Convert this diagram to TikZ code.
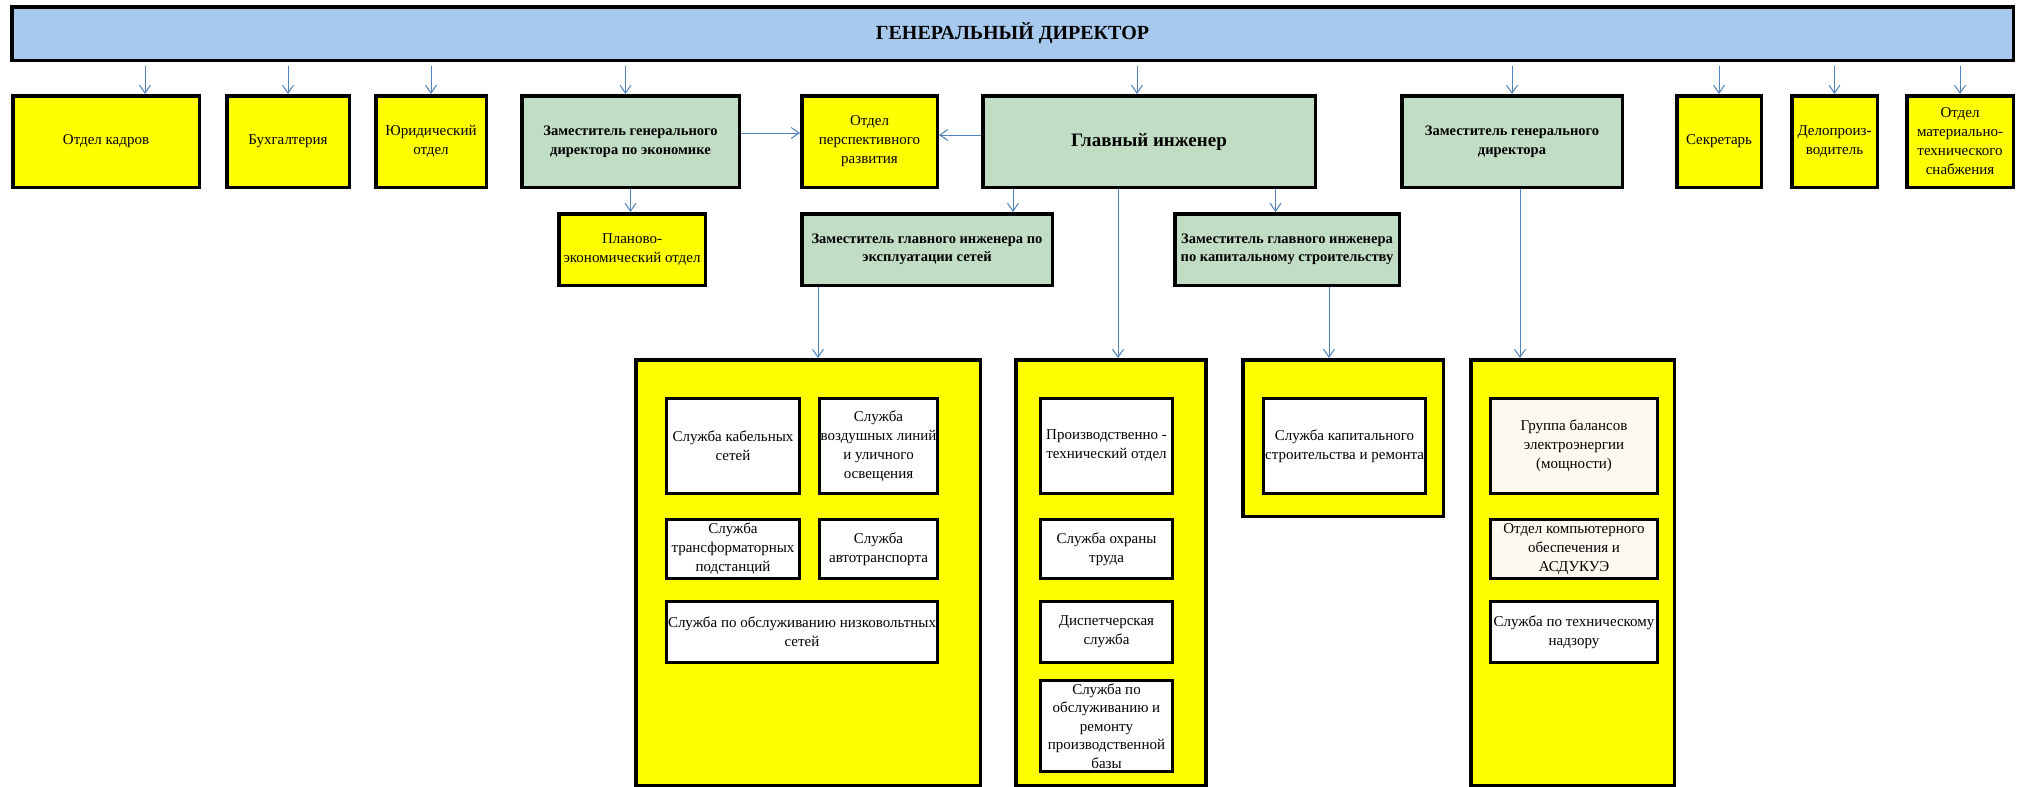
\documentclass[tikz,border=0pt]{standalone}
\usepackage{fontspec}
\setmainfont{Liberation Serif}
\usetikzlibrary{arrows.meta}
\definecolor{topblue}{HTML}{A7C9EE}
\definecolor{mgreen}{HTML}{C1DDC3}
\definecolor{ylw}{HTML}{FFFF00}
\definecolor{cream}{HTML}{FDF9EF}
\definecolor{arrblue}{HTML}{4F81BD}
\begin{document}
\begin{tikzpicture}[x=1pt,y=-1pt,
  box/.style={draw=black, line width=3.5pt, inner sep=2pt, align=center, text=black},
  ybox/.style={box, fill=ylw},
  gbox/.style={box, fill=mgreen},
  ibox/.style={draw=black, line width=3pt, inner sep=1pt, align=center, fill=white},
  cbox/.style={ibox, fill=cream},
  reg/.style={font=\fontsize{15}{19}\selectfont},
  bld/.style={font=\fontsize{14.5}{18.5}\selectfont\bfseries},
  arr/.style={draw=arrblue, line width=1pt, -{Straight Barb[length=8pt,width=11pt]}},
  tarr/.style={arr, shorten <=3.5pt}
]
\useasboundingbox (0,0) rectangle (2024,787);

% top
\node[box, fill=topblue, minimum width=2001.5pt, minimum height=53.5pt,
  font=\fontsize{20}{24}\selectfont\bfseries] (gd) at (1012.5,33.5) {ГЕНЕРАЛЬНЫЙ ДИРЕКТОР};

% row 2
\node[ybox, reg, minimum width=186.5pt, minimum height=91.5pt] (kadry) at (106,141.5) {Отдел кадров};
\node[ybox, reg, minimum width=122.5pt, minimum height=91.5pt] (buh) at (288,141.5) {Бухгалтерия};
\node[ybox, reg, minimum width=110.5pt, minimum height=91.5pt] (yur) at (431,141.5) {Юридический\\отдел};
\node[gbox, bld, minimum width=217.5pt, minimum height=91.5pt] (zamecon) at (630.5,141.5) {Заместитель генерального\\директора по экономике};
\node[ybox, reg, minimum width=135.5pt, minimum height=91.5pt] (persp) at (869.5,141.5) {Отдел\\перспективного\\развития};
\node[gbox, minimum width=332.5pt, minimum height=91.5pt, font=\fontsize{19}{23}\selectfont\bfseries] (glav) at (1149,141.5) {Главный инженер};
\node[gbox, bld, minimum width=220.5pt, minimum height=91.5pt] (zamgen) at (1512,141.5) {Заместитель генерального\\директора};
\node[ybox, reg, minimum width=84.5pt, minimum height=91.5pt] (sekr) at (1719,141.5) {Секретарь};
\node[ybox, reg, minimum width=85.5pt, minimum height=91.5pt] (delo) at (1834.5,141.5) {Делопроиз-\\водитель};
\node[ybox, reg, minimum width=106.5pt, minimum height=91.5pt] (mts) at (1960,141.5) {Отдел\\материально-\\технического\\снабжения};

% row 3
\node[ybox, reg, minimum width=146.5pt, minimum height=71.5pt] (planeko) at (632,249.5) {Планово-\\экономический отдел};
\node[gbox, bld, minimum width=250.5pt, minimum height=71.5pt] (zamexpl) at (927,249.5) {Заместитель главного инженера по\\эксплуатации сетей};
\node[gbox, bld, minimum width=224.5pt, minimum height=71.5pt] (zamkap) at (1287,249.5) {Заместитель главного инженера\\по капитальному строительству};

% big containers
\node[ybox, minimum width=344.5pt, minimum height=425.5pt] (b1) at (808,572.5) {};
\node[ybox, minimum width=190pt, minimum height=425.5pt] (b2) at (1110.75,572.5) {};
\node[ybox, minimum width=200.5pt, minimum height=156.5pt] (b3) at (1343,438) {};
\node[ybox, minimum width=203.5pt, minimum height=425.5pt] (b4) at (1572.5,572.5) {};

% inner boxes b1
\node[ibox, reg, minimum width=133pt, minimum height=95pt] (s1) at (733,446) {Служба кабельных\\сетей};
\node[ibox, reg, minimum width=118pt, minimum height=95pt] (s2) at (878.5,446) {Служба\\воздушных линий\\и уличного\\освещения};
\node[ibox, reg, minimum width=133pt, minimum height=59pt, inner sep=0pt] (s3) at (733,549) {Служба\\трансформаторных\\подстанций};
\node[ibox, reg, minimum width=118pt, minimum height=59pt] (s4) at (878.5,549) {Служба\\автотранспорта};
\node[ibox, reg, minimum width=271pt, minimum height=61pt] (s5) at (802,632) {Служба по обслуживанию низковольтных\\сетей};

% inner boxes b2
\node[ibox, reg, minimum width=132pt, minimum height=95pt] (p1) at (1106.5,446) {Производственно -\\технический отдел};
\node[ibox, reg, minimum width=132pt, minimum height=59pt] (p2) at (1106.5,549) {Служба охраны\\труда};
\node[ibox, reg, minimum width=132pt, minimum height=61pt] (p3) at (1106.5,632) {Диспетчерская\\служба};
\node[ibox, minimum width=132pt, minimum height=91pt, inner sep=0pt, font=\fontsize{15}{18.5}\selectfont] (p4) at (1106.5,726) {Служба по\\обслуживанию и\\ремонту\\производственной\\базы};

% inner b3
\node[ibox, reg, minimum width=162pt, minimum height=95pt] (k1) at (1344.5,446) {Служба капитального\\строительства и ремонта};

% inner b4
\node[cbox, reg, minimum width=167pt, minimum height=95pt] (g1) at (1574,446) {Группа балансов\\электроэнергии\\(мощности)};
\node[cbox, reg, minimum width=167pt, minimum height=59pt, inner sep=0pt] (g2) at (1574,549) {Отдел компьютерного\\обеспечения и\\АСДУКУЭ};
\node[ibox, reg, minimum width=167pt, minimum height=61pt] (g3) at (1574,632) {Служба по техническому\\надзору};

% arrows from general director
\coordinate (c1) at ([xshift=39pt]kadry.north);
\draw[tarr] (c1 |- gd.south) -- (c1);
\draw[tarr] (buh.north |- gd.south) -- (buh.north);
\draw[tarr] (yur.north |- gd.south) -- (yur.north);
\coordinate (c2) at ([xshift=-5pt]zamecon.north);
\draw[tarr] (c2 |- gd.south) -- (c2);
\coordinate (c3) at ([xshift=-12pt]glav.north);
\draw[tarr] (c3 |- gd.south) -- (c3);
\draw[tarr] (zamgen.north |- gd.south) -- (zamgen.north);
\draw[tarr] (sekr.north |- gd.south) -- (sekr.north);
\draw[tarr] (delo.north |- gd.south) -- (delo.north);
\draw[tarr] (mts.north |- gd.south) -- (mts.north);

% horizontal arrows
\coordinate (h1) at ([yshift=8.5pt]zamecon.east);
\draw[arr] (h1) -- (h1 -| persp.west);
\coordinate (h2) at ([yshift=6.5pt]glav.west);
\draw[arr] (h2) -- (h2 -| persp.east);

% row 3 arrows
\draw[arr] (zamecon.south) -- (zamecon.south |- planeko.north);
\coordinate (c4) at ([xshift=-136pt]glav.south);
\draw[arr] (c4) -- (c4 |- zamexpl.north);
\coordinate (c5) at ([xshift=126.5pt]glav.south);
\draw[arr] (c5) -- (c5 |- zamkap.north);

% to containers
\coordinate (c6) at ([xshift=-109pt]zamexpl.south);
\draw[arr] (c6) -- (c6 |- b1.north);
\coordinate (c7) at ([xshift=-31pt]glav.south);
\draw[arr] (c7) -- (c7 |- b2.north);
\coordinate (c8) at ([xshift=42pt]zamkap.south);
\draw[arr] (c8) -- (c8 |- b3.north);
\coordinate (c9) at ([xshift=8pt]zamgen.south);
\draw[arr] (c9) -- (c9 |- b4.north);
\end{tikzpicture}
\end{document}
